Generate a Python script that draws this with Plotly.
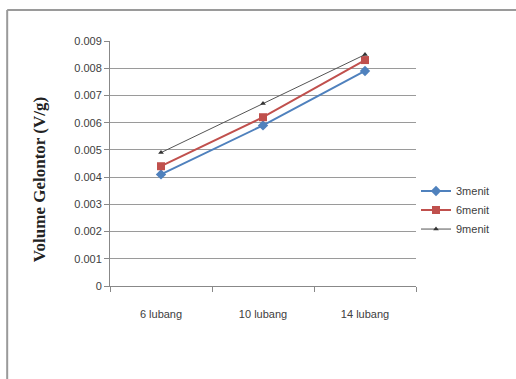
import plotly.graph_objects as go

# Categories and measured volumes for each duration
categories = ["6 lubang", "10 lubang", "14 lubang"]
menit_3 = [0.0041, 0.0059, 0.0079]
menit_6 = [0.0044, 0.0062, 0.0083]
menit_9 = [0.0049, 0.0067, 0.0085]
y_ticks = [0, 0.001, 0.002, 0.003, 0.004, 0.005, 0.006, 0.007, 0.008, 0.009]
y_tick_text = ["0", "0.001", "0.002", "0.003", "0.004", "0.005", "0.006", "0.007", "0.008", "0.009"]

label_font = "Liberation Sans Narrow, Liberation Sans, Arial, sans-serif"

fig = go.Figure()
fig.add_trace(go.Scatter(
    x=categories, y=menit_3, name="3menit", mode="lines+markers",
    line=dict(color="#4F81BD", width=2),
    marker=dict(symbol="diamond", size=8, color="#4F81BD"),
))
fig.add_trace(go.Scatter(
    x=categories, y=menit_6, name="6menit", mode="lines+markers",
    line=dict(color="#C0504D", width=2),
    marker=dict(symbol="square", size=8, color="#C0504D"),
))
fig.add_trace(go.Scatter(
    x=categories, y=menit_9, name="9menit", mode="lines+markers",
    line=dict(color="#555555", width=1),
    marker=dict(symbol="triangle-up", size=5, color="#333333"),
))

# Outer chart frame (left and top edges visible)
fig.add_shape(type="line", xref="paper", yref="paper",
              x0=-0.336, x1=-0.336, y0=-0.5, y1=1.127,
              line=dict(color="#9a9a9a", width=2))
fig.add_shape(type="line", xref="paper", yref="paper",
              x0=-0.336, x1=1.4, y0=1.127, y1=1.127,
              line=dict(color="#9a9a9a", width=2))

# Rotated axis title
fig.add_annotation(
    text="<b>Volume Gelontor (V/g)</b>", textangle=-90,
    xref="paper", yref="paper", x=-0.228, y=0.433,
    xanchor="center", yanchor="middle", showarrow=False,
    font=dict(family="Liberation Serif, Times New Roman, serif", size=17, color="#222222"),
)

fig.update_layout(
    width=516, height=379,
    margin=dict(l=110, r=100, t=41, b=93),
    paper_bgcolor="white", plot_bgcolor="white",
    showlegend=True,
    legend=dict(
        x=1.0, y=0.31, xanchor="left", yanchor="middle",
        font=dict(family=label_font, size=11, color="#404040"),
        itemwidth=30, bgcolor="rgba(0,0,0,0)",
    ),
    xaxis=dict(
        type="category", showgrid=False, range=[-0.5, 2.5],
        showline=True, linecolor="#888888", linewidth=1,
        ticks="outside", tickson="boundaries", ticklen=5, tickcolor="#888888",
        ticklabelstandoff=18,
        tickfont=dict(family=label_font, size=11, color="#404040"),
    ),
    yaxis=dict(
        range=[0, 0.009], tickvals=y_ticks, ticktext=y_tick_text,
        showgrid=True, gridcolor="#9a9a9a", gridwidth=1,
        showline=True, linecolor="#888888", linewidth=1,
        ticks="outside", ticklen=5, tickcolor="#888888",
        tickfont=dict(family=label_font, size=11, color="#404040"),
        zeroline=False,
    ),
)

fig.write_html("out.html")
